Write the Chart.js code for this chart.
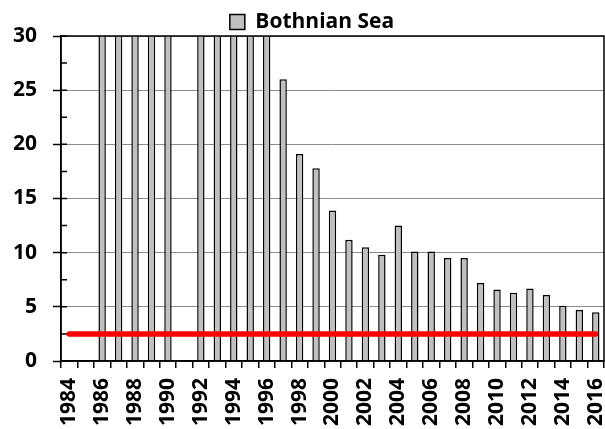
<!DOCTYPE html>
<html>
<head>
<meta charset="utf-8">
<script src="https://cdn.jsdelivr.net/npm/chart.js@4"></script>
<style>
  html, body { margin: 0; padding: 0; background: #fff; }
  #wrap { width: 605px; height: 429px; }
</style>
</head>
<body>
<div id="wrap"><canvas id="seaChart"></canvas></div>
<script>
// years 1984..2016
const years = [];
for (let y = 1984; y <= 2016; y++) years.push(String(y));

// bars above 30 run off the top of the axis; their real size can't be read
const bothnianSea = [
  null, null, 40, 40, 40, 40, 40, null, 40, 40,
  40, 40, 40, 26.0, 19.1, 17.8, 13.9, 11.2, 10.5, 9.8,
  12.5, 10.1, 10.1, 9.5, 9.5, 7.2, 6.6, 6.3, 6.7, 6.1,
  5.1, 4.7, 4.5
];
const threshold = years.map(() => 2.5);
const yTicks = [0, 5, 10, 15, 20, 25, 30];

const FONT = { family: "'Open Sans', 'DejaVu Sans', sans-serif", size: 21, weight: "bold" };

// box round the plot plus the small inner tick marks every 2.5
const framePlugin = {
  id: "frame",
  afterLayout(chart) {
    // legend sits a little right of centre in the original
    chart.legend.left += 10;
    chart.legend.right += 10;
  },
  afterDatasetsDraw(chart) {
    const { ctx, chartArea: a, scales } = chart;
    const y = scales.y;
    ctx.save();
    ctx.strokeStyle = "#000";
    ctx.lineWidth = 1.5;
    ctx.beginPath();
    for (let v = 0; v <= 30; v += 2.5) {
      const py = y.getPixelForValue(v);
      ctx.moveTo(a.left, py);
      ctx.lineTo(a.left + 6, py);
    }
    ctx.stroke();
    ctx.strokeRect(a.left, a.top, a.right - a.left, a.bottom - a.top);
    ctx.restore();
  },
};

new Chart(document.getElementById("seaChart"), {
  data: {
    labels: years,
    datasets: [
      {
        type: "line",
        label: "limit",
        data: threshold,
        borderColor: "#ff0000",
        borderWidth: 5.5,
        borderCapStyle: "round",
        pointRadius: 0,
        order: 0,
      },
      {
        type: "bar",
        label: "Bothnian Sea",
        data: bothnianSea,
        backgroundColor: "#c0c0c0",
        borderColor: "#000",
        borderWidth: 1.5,
        categoryPercentage: 1,
        barPercentage: 0.45,
        clip: 0,
        order: 1,
      },
    ],
  },
  options: {
    responsive: true,
    maintainAspectRatio: false,
    animation: false,
    layout: { padding: { left: 0, right: 1, top: 10, bottom: 0 } },
    plugins: {
      legend: {
        display: true,
        maxHeight: 26,
        labels: {
          filter: (item) => item.text === "Bothnian Sea",
          font: FONT,
          color: "#000",
          boxWidth: 15,
          boxHeight: 15,
          padding: 1.5,
        },
      },
      tooltip: { enabled: false },
    },
    scales: {
      x: {
        offset: true,
        // fixed axis height, no extra side room for the rotated end labels
        afterFit: (scale) => {
          scale.paddingLeft = 0;
          scale.paddingRight = 0;
          scale.height = 68;
        },
        grid: {
          display: true,
          offset: true,
          drawOnChartArea: false,
          tickLength: 7,
          tickColor: "#000",
          lineWidth: 1.5,
        },
        border: { color: "#000", width: 1.5 },
        ticks: {
          autoSkip: false,
          minRotation: 90,
          maxRotation: 90,
          padding: 10,
          color: "#000",
          font: FONT,
          callback: function (val, i) {
            return i % 2 === 0 ? years[i] : "";
          },
        },
      },
      y: {
        min: 0,
        max: 30,
        afterBuildTicks: (axis) => {
          axis.ticks = yTicks.map((v) => ({ value: v }));
        },
        afterFit: (scale) => {
          scale.width = 61;
        },
        grid: {
          color: "#8c8c8c",
          lineWidth: 1,
          tickLength: 8,
          tickColor: "#000",
          tickWidth: 1.5,
        },
        border: { color: "#000", width: 1.5 },
        ticks: { padding: 16, color: "#000", font: FONT },
      },
    },
  },
  plugins: [framePlugin],
});
</script>
</body>
</html>
